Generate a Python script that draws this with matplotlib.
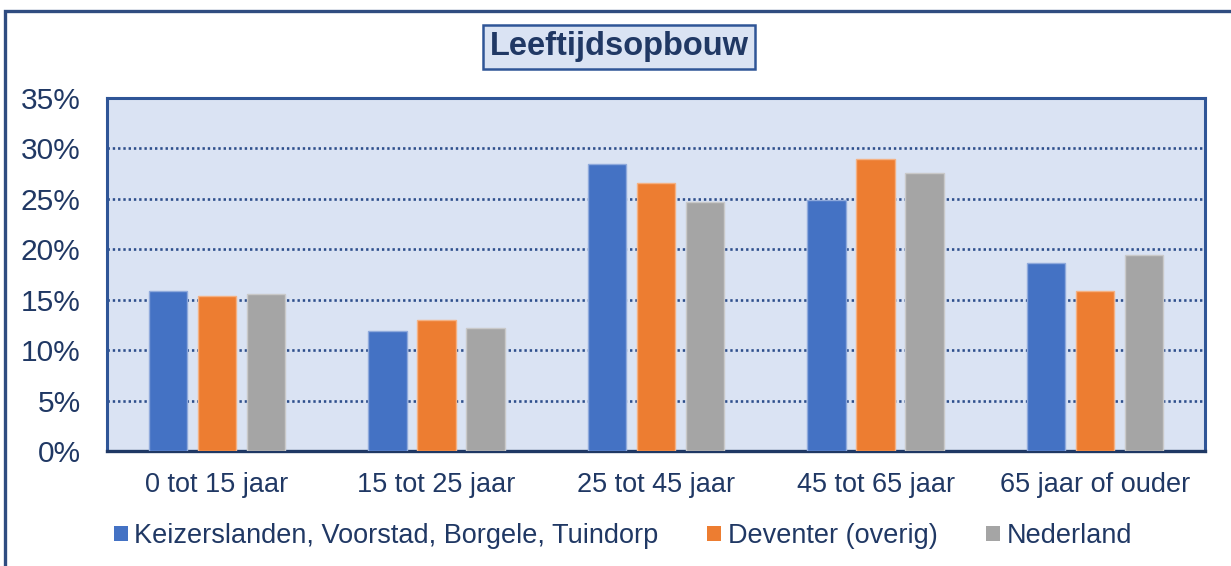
import matplotlib
matplotlib.use("Agg")
import matplotlib.pyplot as plt
from matplotlib.patches import Rectangle, Patch
import numpy as np

plt.rcParams['font.family'] = ['Liberation Sans', 'DejaVu Sans']

# data
categories = ['0 tot 15 jaar', '15 tot 25 jaar', '25 tot 45 jaar', '45 tot 65 jaar', '65 jaar of ouder']
series_names = ['Keizerslanden, Voorstad, Borgele, Tuindorp', 'Deventer (overig)', 'Nederland']
keizerslanden = [15.9, 11.9, 28.5, 24.9, 18.6]
deventer = [15.4, 13.0, 26.6, 29.0, 15.9]
nederland = [15.6, 12.2, 24.7, 27.6, 19.4]
yticks = [0, 5, 10, 15, 20, 25, 30, 35]

colors = ['#4472C4', '#ED7D31', '#A5A5A5']
edges = ['#8FAADC', '#F4B183', '#C9C9C9']
navy = '#2F5597'
txt = '#203864'

fig = plt.figure(figsize=(12.31, 5.66), dpi=100)
ax = fig.add_axes([107/1231, 1 - 451/566, (1205 - 107)/1231, (451 - 98)/566])
ax.set_facecolor('#DAE3F3')

x = np.arange(len(categories))
w = 0.175
step = 0.223
for i, vals in enumerate([keizerslanden, deventer, nederland]):
    ax.bar(x + (i - 1) * step, vals, width=w, color=colors[i],
           edgecolor=edges[i], linewidth=1, zorder=3, label=series_names[i])

ax.set_xlim(-0.5, len(categories) - 0.5)
ax.set_ylim(0, 35)
ax.set_yticks(yticks)
ax.set_yticklabels([f'{t}%' for t in yticks], fontsize=21.5, color=txt)
ax.set_xticks(x)
ax.set_xticklabels(categories, fontsize=19.5, color=txt)
ax.tick_params(axis='both', length=0)
ax.tick_params(axis='y', pad=19)
ax.tick_params(axis='x', pad=15)

# dotted gridlines
for t in yticks[1:-1]:
    ax.axhline(t, color='#2E4F8C', lw=1.9, linestyle=(0, (0.9, 1.1)), zorder=2)

for s in ['left', 'right', 'top']:
    ax.spines[s].set_color(navy)
    ax.spines[s].set_linewidth(2.2)
ax.spines['bottom'].set_color('#1F3864')
ax.spines['bottom'].set_linewidth(2.4)

# title in a box
fig.text(619/1231, 1 - 47/566, 'Leeftijdsopbouw', ha='center', va='center',
         fontsize=23.5, fontweight='bold', color=txt,
         bbox=dict(boxstyle='square,pad=0.2', facecolor='#DAE3F3', edgecolor=navy, linewidth=1.8))

# legend
handles = [Patch(facecolor=c, edgecolor='none') for c in colors]
fig.legend(handles, series_names, loc='center', bbox_to_anchor=(623/1231, 1 - 536/566),
           ncol=3, frameon=False, fontsize=19.5, handlelength=0.5, handleheight=0.5,
           handletextpad=0.25, columnspacing=1.8, labelcolor=txt)

# outer frame (runs off the right and bottom edge)
fig.patches.append(Rectangle((5/1231, -0.2), 1.2, 1.2 - 11/566,
                             transform=fig.transFigure, fill=False,
                             edgecolor='#2F4C80', linewidth=2.4, clip_on=False))

fig.savefig('out.png', dpi=100)
